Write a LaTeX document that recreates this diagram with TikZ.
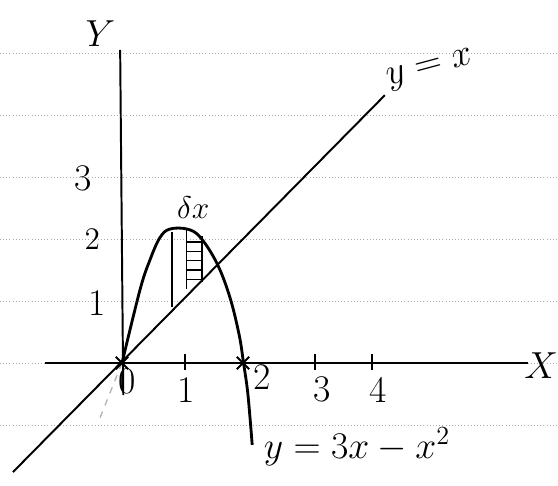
\documentclass[tikz,border=0pt]{standalone}
\usepackage{tikz}
\usetikzlibrary{arrows.meta}
\begin{document}
\begin{tikzpicture}[x=1cm,y=1cm,font=\LARGE,
  rule/.style={gray!65,line width=0.45pt,densely dotted},
  axis/.style={line width=0.9pt},
  curve/.style={line width=1.3pt},
  crossmark/.style={line width=0.9pt}]
  \useasboundingbox (-1.968,-1.968) rectangle (7.032,5.855);
  % ruled paper
  \foreach \r in {-1,...,5}
    \draw[rule] (-1.968,\r) -- (7.032,\r);
  % axes
  \coordinate (xstart) at (-1.24,0);
  \coordinate (xend) at (6.55,0);
  \coordinate (ystart) at (0.02,-0.52);
  \coordinate (yend) at (-0.03,5.05);
  \draw[axis] (xstart) -- (xend);
  \draw[axis] (ystart) -- (yend);
  \node (xlab) at (6.76,-0.05) {$X$};
  \node (ylab) at (-0.35,5.32) {$Y$};
  \node (orig) at (0.08,-0.3) {0};
  \foreach \t in {1.02,3.11,4.03}
    \draw[axis] (\t,-0.12) -- (\t,0.15);
  \node (tx1) at (1.03,-0.44) {1};
  \node (tx2) at (2.26,-0.22) {2};
  \node (tx3) at (3.23,-0.42) {3};
  \node (tx4) at (4.13,-0.44) {4};
  \node (ty1) at (-0.4,0.97) {1};
  \node[font=\Large] (ty2) at (-0.48,2.0) {2};
  \node (ty3) at (-0.62,2.98) {3};
  % the line y = x
  \coordinate (lo) at (-1.76,-1.76);
  \coordinate (hi) at (4.24,4.32);
  \draw[axis] (lo) -- (hi);
  \node[rotate=15] (linelab) at (4.97,4.73) {$y=x$};
  \draw[gray!60,dashed,line width=0.6pt] (0,0) -- (-0.39,-0.97);
  % the parabola, as sketched
  \draw[curve] plot[smooth,tension=0.6] coordinates {(0,0) (0.29,1.18) (0.45,1.66)
    (0.61,2.02) (0.77,2.16) (1.05,2.16) (1.26,2.03) (1.53,1.61) (1.74,1.06)
    (1.89,0.45) (1.96,0) (2.03,-0.5) (2.1,-1.32)};
  \node (parlab) at (3.79,-1.35) {$y=3x-x^2$};
  % roots
  \foreach \cx in {0,1.95}
    \draw[crossmark] (\cx-0.1,-0.1) -- (\cx+0.1,0.1) (\cx-0.1,0.1) -- (\cx+0.1,-0.1);
  % strip of width dx
  \draw[line width=1.1pt] (0.81,0.9) -- (0.81,2.12);
  \draw[line width=0.7pt] (1.04,1.2) -- (1.04,2.15);
  \draw[line width=0.7pt] (1.29,1.3) -- (1.29,2.05);
  \foreach \h in {1.35,1.5,...,1.96}
    \draw[line width=0.6pt] (1.04,\h) -- (1.29,\h);
  \node[font=\Large] (dx) at (1.15,2.5) {$\delta x$};
\end{tikzpicture}
\end{document}
